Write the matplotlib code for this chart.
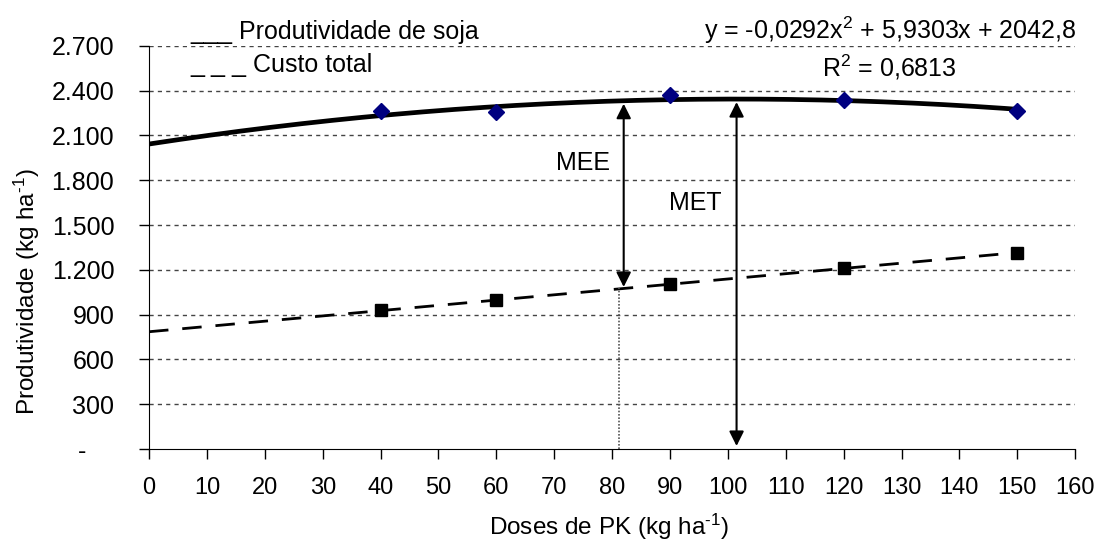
import numpy as np
import matplotlib
matplotlib.use("Agg")
import matplotlib.pyplot as plt

plt.rcParams['font.family'] = ['Liberation Sans', 'DejaVu Sans']
plt.rcParams['mathtext.fontset'] = 'custom'
plt.rcParams['mathtext.rm'] = 'Liberation Sans'
plt.rcParams['mathtext.it'] = 'Liberation Sans:italic'
plt.rcParams['axes.unicode_minus'] = False

# dados observados
doses = [40, 60, 90, 120, 150]
produtividade = [2265, 2255, 2370, 2335, 2265]
custo = [928, 995, 1105, 1210, 1315]

# equacao ajustada (produtividade)
coef_prod = [-0.0292, 5.9303, 2042.8]

y_ticks = [0, 300, 600, 900, 1200, 1500, 1800, 2100, 2400, 2700]
y_labels = ["-    ", "300", "600", "900", "1.200", "1.500", "1.800", "2.100", "2.400", "2.700"]
x_ticks = list(range(0, 170, 10))

mee_x = 82
met_x = 101.5

fig = plt.figure(figsize=(10.96, 5.4), dpi=100)
ax = fig.add_axes([0.136, 0.1685, 0.845, 0.7465])

xs = np.linspace(0, 150, 200)
prod_fit = np.polyval(coef_prod, xs)
coef_custo = np.polyfit(doses, custo, 1)
custo_fit = np.polyval(coef_custo, xs)

# grid
for yt in y_ticks[1:]:
    ax.axhline(yt, color="#444444", lw=1, ls=(0, (3, 3)), zorder=0)

ax.plot(xs, prod_fit, color="black", lw=3.4, zorder=2)
ax.plot(xs, custo_fit, color="black", lw=2, ls=(0, (7, 5)), zorder=2)
ax.plot(doses, produtividade, ls="none", marker="D", color="#000080", ms=8, zorder=3)
ax.plot(doses, custo, ls="none", marker="s", color="black", ms=8, zorder=3)

# linha pontilhada MEE
y_mee_custo = np.polyval(coef_custo, mee_x)
ax.plot([mee_x - 0.8, mee_x - 0.8], [0, y_mee_custo], color="#555555", lw=1.2, ls=(0, (1, 1)))

# setas
arrow_kw = dict(arrowstyle="<|-|>", color="black", lw=1.5, mutation_scale=22, shrinkA=0, shrinkB=0)
ax.annotate("", xy=(mee_x, np.polyval(coef_prod, mee_x) - 20), xytext=(mee_x, y_mee_custo + 10),
            arrowprops=arrow_kw)
ax.annotate("", xy=(met_x, np.polyval(coef_prod, met_x) - 20), xytext=(met_x, 20),
            arrowprops=arrow_kw)
ax.text(70.3, 1915, "MEE", fontsize=18, va="center", ha="left")
ax.text(89.8, 1650, "MET", fontsize=18, va="center", ha="left")

ax.set_xlim(0, 160)
ax.set_ylim(0, 2700)
ax.set_xticks(x_ticks)
ax.set_yticks(y_ticks)
ax.set_yticklabels(y_labels)
ax.tick_params(axis="both", direction="out", length=7, width=1)
ax.tick_params(axis="x", labelsize=17, pad=13)
ax.tick_params(axis="y", labelsize=18, pad=18)
for s in ["top", "right"]:
    ax.spines[s].set_visible(False)

# rotulos dos eixos
fig.text(609 / 1096, 1 - 535 / 540, r"Doses de PK (kg ha$^{\text{-}1}$)", fontsize=17.5,
         ha="center", va="baseline")
fig.text(27 / 1096, 248 / 540 + 0.0, r"Produtividade (kg ha$^{\text{-}1}$)", fontsize=17.5,
         ha="center", va="center", rotation=90)

# legenda em texto
fig.text(190 / 1096, 1 - 32 / 540, "___ Produtividade de soja", fontsize=18, va="center")
fig.text(190 / 1096, 1 - 65 / 540, "_ _ _ Custo total", fontsize=18, va="center")

# equacao
fig.text(1076 / 1096, 1 - 30 / 540, "y = -0,0292x$^2$ + 5,9303x + 2042,8", fontsize=18, ha="right", va="center")
fig.text(889 / 1096, 1 - 67 / 540, "R$^2$ = 0,6813", fontsize=18, ha="center", va="center")

fig.savefig("out.png", dpi=100)
